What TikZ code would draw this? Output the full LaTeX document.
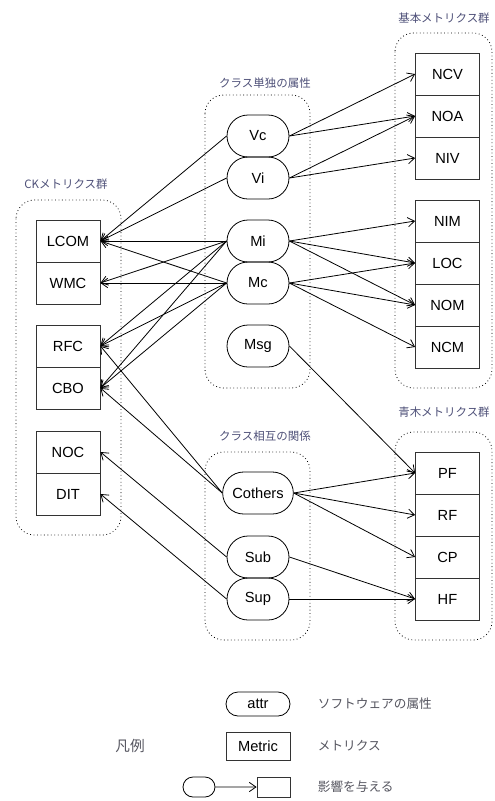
\documentclass[tikz,border=0pt]{standalone}
\usepackage{fontspec}
\setmainfont{Liberation Sans}
\newfontfamily\jpfont{Noto Sans CJK JP}
\usetikzlibrary{arrows.meta,shapes.misc}
\definecolor{titrebleu}{RGB}{78,80,120}
\definecolor{legendegris}{RGB}{85,85,95}
\tikzset{
  attr/.style={draw,rounded rectangle,minimum width=46.5pt,minimum height=31.5pt,
    inner sep=0pt,line width=0.6pt,font=\fontsize{11}{13}\selectfont},
  metric/.style={draw=black!80,rectangle,minimum width=48pt,minimum height=31.5pt,
    inner sep=0pt,line width=0.6pt,font=\fontsize{11}{13}\selectfont},
  groupe/.style={dotted,line width=0.6pt,rounded corners=14pt},
  titre/.style={text=titrebleu,font=\jpfont\fontsize{8.6}{10}\selectfont},
  legende/.style={text=legendegris,font=\jpfont\fontsize{9.5}{11}\selectfont},
}
\begin{document}
\begin{tikzpicture}[x=0.75pt,y=-0.75pt,>={Straight Barb[length=5pt,width=7pt]},line width=0.6pt]
  \useasboundingbox (0,0) rectangle (495,801);

  % Groupes
  \draw[groupe] (16,200) rectangle (121,535);
  \draw[groupe] (205,95) rectangle (310,388);
  \draw[groupe] (205,452) rectangle (310,640);
  \draw[groupe] (395,33) rectangle (492,388);
  \draw[groupe] (395,432) rectangle (492,640);
  \node[titre] (tCK) at (66,184) {CKメトリクス群};
  \node[titre] (tSeul) at (265,83) {クラス単独の属性};
  \node[titre] (tRel) at (265,436) {クラス相互の関係};
  \node[titre] (tBase) at (444,18) {基本メトリクス群};
  \node[titre] (tAoki) at (444,412) {青木メトリクス群};

  % Metriques CK
  \node[metric] (LCOM) at (68,241) {LCOM};
  \node[metric] (WMC) at (68,283) {WMC};
  \node[metric] (RFC) at (68,346) {RFC};
  \node[metric] (CBO) at (68,388) {CBO};
  \node[metric] (NOC) at (68,452) {NOC};
  \node[metric] (DIT) at (68,494) {DIT};

  % Attributs
  \node[attr] (Vc) at (258,136) {Vc};
  \node[attr] (Vi) at (258,178) {Vi};
  \node[attr] (Mi) at (258,241) {Mi};
  \node[attr] (Mc) at (258,283) {Mc};
  \node[attr] (Msg) at (258,346) {Msg};
  \node[attr,minimum width=53pt] (Cothers) at (258,493) {Cothers};
  \node[attr] (Sub) at (258,557) {Sub};
  \node[attr] (Sup) at (258,599) {Sup};

  % Metriques de base et d'Aoki
  \node[metric] (NCV) at (447.5,74) {NCV};
  \node[metric] (NOA) at (447.5,116) {NOA};
  \node[metric] (NIV) at (447.5,158) {NIV};
  \node[metric] (NIM) at (447.5,221) {NIM};
  \node[metric] (LOC) at (447.5,263) {LOC};
  \node[metric] (NOM) at (447.5,305) {NOM};
  \node[metric] (NCM) at (447.5,347) {NCM};
  \node[metric] (PF) at (447.5,473) {PF};
  \node[metric] (RF) at (447.5,515) {RF};
  \node[metric] (CP) at (447.5,557) {CP};
  \node[metric] (HF) at (447.5,599) {HF};

  % Influences vers la gauche
  \foreach \a/\m in {Vc/LCOM,Vi/LCOM,Mi/LCOM,Mc/LCOM,Mi/WMC,Mc/WMC,
                     Mi/RFC,Mc/RFC,Cothers/RFC,Mi/CBO,Mc/CBO,Cothers/CBO,
                     Sub/NOC,Sup/DIT}
    \draw[->] (\a.west) -- (\m.east);

  % Influences vers la droite
  \foreach \a/\m in {Vc/NCV,Vc/NOA,Vi/NOA,Vi/NIV,Mi/NIM,Mi/LOC,Mi/NOM,
                     Mc/LOC,Mc/NOM,Mc/NCM,Msg/PF,Cothers/PF,Cothers/RF,
                     Cothers/CP,Sub/HF,Sup/HF}
    \draw[->] (\a.east) -- (\m.west);

  % Legende
  \node[attr,minimum width=48pt,minimum height=18pt] (legAttr) at (258,704) {attr};
  \node[metric,minimum height=21pt] (legMetric) at (258,746) {Metric};
  \node[attr,minimum width=24pt,minimum height=15pt] (legOval) at (199,787) {};
  \node[metric,minimum width=24.75pt,minimum height=15pt] (legBox) at (273.5,787) {};
  \draw[->] (legOval) -- (legBox);
  \node[legende,anchor=west] (txtAttr) at (313,704) {ソフトウェアの属性};
  \node[legende,anchor=west] (txtMetric) at (313,746) {メトリクス};
  \node[legende,anchor=west] (txtInfl) at (313,787) {影響を与える};
  \node[legende,font=\jpfont\fontsize{11}{13}\selectfont] (txtLeg) at (130,746) {凡例};
\end{tikzpicture}
\end{document}
